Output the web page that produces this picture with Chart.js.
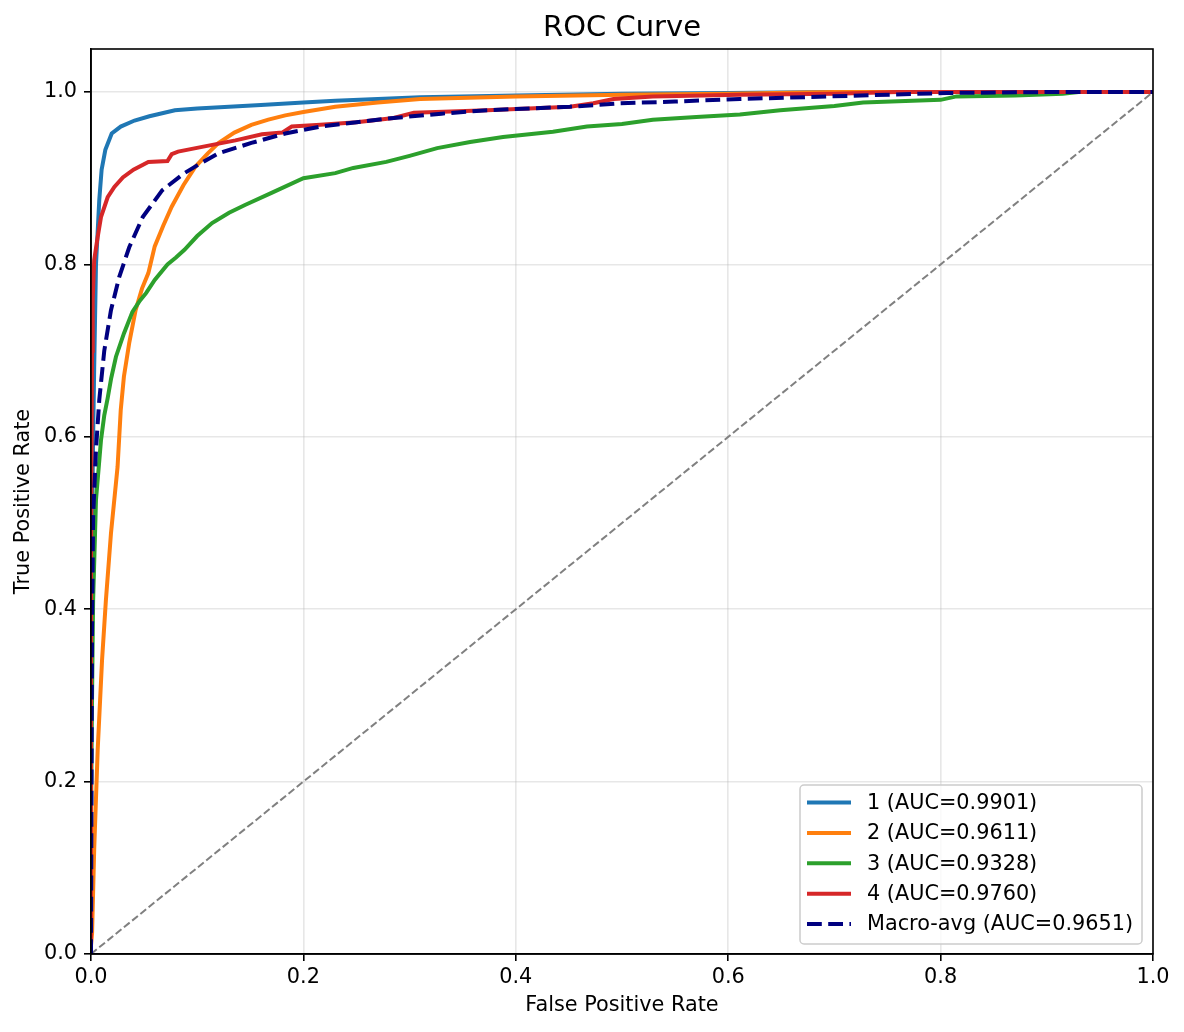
<!DOCTYPE html>
<html lang="en">
<head>
  <meta charset="UTF-8" />
  <title>ROC Curve</title>
  <script src="https://cdn.jsdelivr.net/npm/chart.js"></script>
  <style>
    body { margin: 0; background: #fff; }
    .chart-box { width: 1184px; height: 1032px; position: relative; }
  </style>
</head>
<body>
  <div class="chart-box"><canvas id="rocChart"></canvas></div>

  <script>
    // values (false positive rate / true positive rate)
    const fpr1 = [0, 0, 0.001, 0.002, 0.003, 0.0047, 0.0078, 0.010, 0.0135, 0.0195, 0.028, 0.041, 0.055, 0.079, 0.10, 0.13, 0.16, 0.20, 0.23, 0.31, 0.40, 0.50, 0.60, 0.70, 1.0];
    const tpr1 = [0, 0.35, 0.50, 0.60, 0.68, 0.80, 0.875, 0.910, 0.933, 0.952, 0.960, 0.967, 0.972, 0.979, 0.981, 0.983, 0.985, 0.988, 0.990, 0.994, 0.996, 0.998, 0.999, 1.0, 1.0];

    const fpr2 = [0, 0, 0.001, 0.003, 0.0063, 0.0104, 0.014, 0.0188, 0.025, 0.028, 0.031, 0.036, 0.042, 0.048, 0.054, 0.060, 0.068, 0.076, 0.087, 0.098, 0.11, 0.12, 0.135, 0.151, 0.167, 0.183, 0.20, 0.23, 0.27, 0.31, 0.40, 0.50, 0.60, 0.70, 1.0];
    const tpr2 = [0, 0.01, 0.024, 0.121, 0.237, 0.341, 0.41, 0.488, 0.565, 0.631, 0.67, 0.709, 0.747, 0.772, 0.79, 0.821, 0.845, 0.867, 0.892, 0.913, 0.929, 0.941, 0.953, 0.962, 0.968, 0.973, 0.977, 0.983, 0.988, 0.992, 0.995, 0.997, 0.998, 1.0, 1.0];

    const fpr3 = [0, 0, 0.001, 0.002, 0.0047, 0.0094, 0.0125, 0.0157, 0.019, 0.0235, 0.031, 0.039, 0.046, 0.052, 0.060, 0.072, 0.080, 0.088, 0.10, 0.114, 0.13, 0.145, 0.17, 0.20, 0.23, 0.247, 0.278, 0.30, 0.326, 0.357, 0.388, 0.435, 0.467, 0.50, 0.529, 0.57, 0.611, 0.649, 0.70, 0.727, 0.80, 0.815, 0.87, 0.915, 0.93, 1.0];
    const tpr3 = [0, 0.15, 0.30, 0.41, 0.527, 0.596, 0.625, 0.645, 0.668, 0.693, 0.72, 0.745, 0.758, 0.767, 0.782, 0.80, 0.808, 0.817, 0.833, 0.848, 0.860, 0.869, 0.883, 0.90, 0.906, 0.912, 0.919, 0.926, 0.935, 0.942, 0.948, 0.954, 0.960, 0.963, 0.968, 0.971, 0.974, 0.979, 0.984, 0.988, 0.991, 0.995, 0.996, 0.998, 1.0, 1.0];

    const fpr4 = [0, 0, 0.001, 0.0016, 0.003, 0.0063, 0.0094, 0.0157, 0.022, 0.030, 0.040, 0.054, 0.072, 0.076, 0.082, 0.107, 0.136, 0.161, 0.18, 0.189, 0.216, 0.25, 0.285, 0.304, 0.373, 0.451, 0.473, 0.492, 0.529, 0.611, 0.70, 0.76, 1.0];
    const tpr4 = [0, 0.45, 0.70, 0.759, 0.805, 0.832, 0.855, 0.878, 0.890, 0.901, 0.910, 0.919, 0.920, 0.928, 0.931, 0.937, 0.944, 0.951, 0.953, 0.960, 0.962, 0.965, 0.970, 0.976, 0.979, 0.983, 0.987, 0.992, 0.995, 0.997, 0.998, 1.0, 1.0];

    const fprMacro = [0, 0.0005, 0.001, 0.002, 0.0047, 0.0078, 0.0125, 0.0188, 0.0267, 0.036, 0.0487, 0.067, 0.088, 0.10, 0.12, 0.151, 0.183, 0.216, 0.25, 0.285, 0.33, 0.373, 0.451, 0.498, 0.55, 0.611, 0.696, 0.806, 0.90, 1.0];
    const tprMacro = [0, 0.20, 0.38, 0.507, 0.585, 0.643, 0.70, 0.747, 0.786, 0.82, 0.855, 0.886, 0.906, 0.915, 0.929, 0.941, 0.952, 0.960, 0.965, 0.970, 0.975, 0.979, 0.983, 0.987, 0.989, 0.992, 0.995, 0.999, 1.0, 1.0];

    const chanceLine = [0, 1];

    const seriesLabels = ['1 (AUC=0.9901)', '2 (AUC=0.9611)', '3 (AUC=0.9328)', '4 (AUC=0.9760)', 'Macro-avg (AUC=0.9651)'];
    const seriesColors = ['#1f77b4', '#ff7f0e', '#2ca02c', '#d62728', '#000080'];
    const tickValues = [0, 0.2, 0.4, 0.6, 0.8, 1.0];

    const FONT = 'DejaVu Sans';
    Chart.defaults.font.family = FONT;
    Chart.defaults.color = '#000';

    function pts(xs, ys) {
      return xs.map((x, i) => ({ x: x, y: ys[i] }));
    }

    // matplotlib-like frame: top and right spines, title, legend box
    const framePlugin = {
      id: 'frame',
      afterDraw(chart) {
        const { ctx, chartArea: a } = chart;
        ctx.save();
        ctx.strokeStyle = '#000';
        ctx.lineWidth = 1.6;
        ctx.strokeRect(a.left, a.top, a.right - a.left, a.bottom - a.top);

        ctx.font = '29px "' + FONT + '"';
        ctx.fillStyle = '#000';
        ctx.textAlign = 'center';
        ctx.textBaseline = 'middle';
        ctx.fillText('ROC Curve', (a.left + a.right) / 2, 28);

        // legend, lower right
        const bx = 800, by = 785, bw = 342, bh = 159, r = 4;
        ctx.beginPath();
        ctx.roundRect(bx, by, bw, bh, r);
        ctx.fillStyle = 'rgba(255,255,255,0.8)';
        ctx.fill();
        ctx.strokeStyle = '#cccccc';
        ctx.lineWidth = 1.5;
        ctx.stroke();

        ctx.font = '20.8px "' + FONT + '"';
        ctx.textAlign = 'left';
        seriesLabels.forEach((lab, i) => {
          const yy = 802.5 + i * 30.4;
          ctx.beginPath();
          ctx.strokeStyle = seriesColors[i];
          ctx.lineWidth = 4;
          ctx.setLineDash(i === 4 ? [14.8, 6.4] : []);
          ctx.moveTo(807, yy);
          ctx.lineTo(851, yy);
          ctx.stroke();
          ctx.setLineDash([]);
          ctx.fillStyle = '#000';
          ctx.fillText(lab, 867, yy + 1);
        });
        ctx.restore();
      }
    };

    const lineSets = [fpr1, fpr2, fpr3, fpr4].map((xs, i) => ({
      label: seriesLabels[i],
      data: pts(xs, [tpr1, tpr2, tpr3, tpr4][i]),
      borderColor: seriesColors[i],
      borderWidth: 4,
      order: 4 - i
    }));

    new Chart(document.getElementById('rocChart'), {
      type: 'scatter',
      data: {
        datasets: [
          ...lineSets,
          {
            label: seriesLabels[4],
            data: pts(fprMacro, tprMacro),
            borderColor: seriesColors[4],
            borderWidth: 4,
            borderDash: [14.8, 6.4],
            order: 0
          },
          {
            label: 'chance',
            data: pts(chanceLine, chanceLine),
            borderColor: '#808080',
            borderWidth: 2,
            borderDash: [7.4, 3.2],
            order: 5
          }
        ]
      },
      options: {
        responsive: true,
        maintainAspectRatio: false,
        animation: false,
        showLine: true,
        elements: { point: { radius: 0, hoverRadius: 0 }, line: { tension: 0, fill: false } },
        layout: { padding: { left: 0, right: 31, top: 49, bottom: 0 } },
        plugins: { legend: { display: false }, tooltip: { enabled: false }, title: { display: false } },
        scales: {
          x: {
            type: 'linear',
            min: 0,
            max: 1,
            afterBuildTicks: s => { s.ticks = tickValues.map(v => ({ value: v })); },
            afterFit: s => { s.height = 78; },
            ticks: { font: { size: 20.8 }, padding: 4, maxRotation: 0, callback: v => v.toFixed(1) },
            grid: { color: 'rgba(176,176,176,0.3)', lineWidth: 1.6, tickColor: '#000', tickLength: 7, tickWidth: 1.6 },
            border: { color: '#000', width: 1.6 },
            title: { display: true, text: 'False Positive Rate', font: { size: 20.8 }, padding: { top: 0, bottom: 13.5 } }
          },
          y: {
            type: 'linear',
            min: 0,
            max: 1.05,
            afterBuildTicks: s => { s.ticks = tickValues.map(v => ({ value: v })); },
            afterFit: s => { s.width = 91; },
            ticks: { font: { size: 20.8 }, padding: 7, callback: v => v.toFixed(1) },
            grid: { color: 'rgba(176,176,176,0.3)', lineWidth: 1.6, tickColor: '#000', tickLength: 7, tickWidth: 1.6 },
            border: { color: '#000', width: 1.6 },
            title: { display: true, text: 'True Positive Rate', font: { size: 20.8 }, padding: { top: 11, bottom: 0 } }
          }
        }
      },
      plugins: [framePlugin]
    });
  </script>
</body>
</html>
